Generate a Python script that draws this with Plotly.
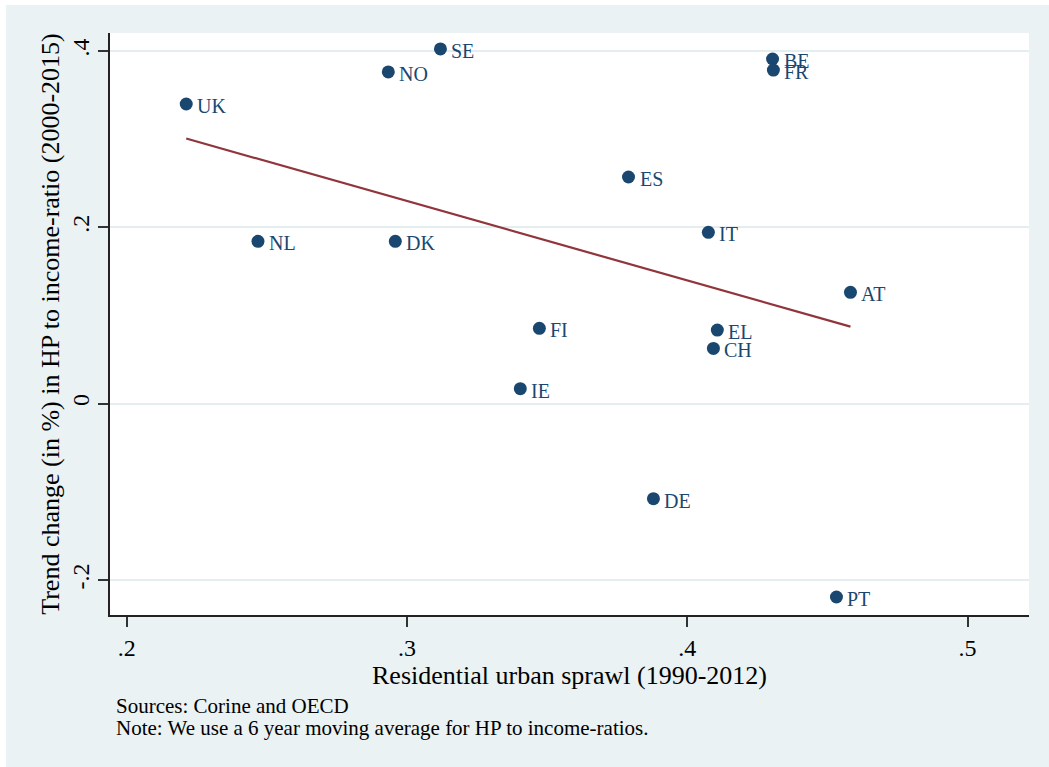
import numpy as np
import plotly.graph_objects as go

# Country codes with residential urban sprawl (1990-2012) and trend change in
# the house-price-to-income ratio (2000-2015)
countries = ["UK", "SE", "NO", "BE", "FR", "ES", "NL", "DK", "IT", "AT",
             "FI", "EL", "CH", "IE", "DE", "PT"]
sprawl = [0.2212, 0.3119, 0.2933, 0.4304, 0.4307, 0.3790, 0.2468, 0.2958,
          0.4075, 0.4582, 0.3472, 0.4107, 0.4093, 0.3404, 0.3879, 0.4532]
hp_change = [0.3399, 0.4023, 0.3762, 0.3909, 0.3784, 0.2571, 0.1841, 0.1841,
             0.1943, 0.1263, 0.0854, 0.0835, 0.0627, 0.0170, -0.1078, -0.2193]

x_ticks = [0.2, 0.3, 0.4, 0.5]
x_tick_text = [".2", ".3", ".4", ".5"]
y_ticks = [-0.2, 0.0, 0.2, 0.4]
y_tick_text = ["-.2", "0", ".2", ".4"]

NAVY = "#1A476F"
MAROON = "#90353B"
BG = "#EAF2F3"
FONT = "Liberation Serif"

# Linear fit over the observed range
slope, intercept = np.polyfit(sprawl, hp_change, 1)
fit_x = np.array([min(sprawl), max(sprawl)])
fit_y = slope * fit_x + intercept

fig = go.Figure()
fig.add_trace(go.Scatter(
    x=sprawl, y=hp_change, mode="markers",
    marker=dict(size=13, color=NAVY),
    showlegend=False, hoverinfo="skip",
))
fig.add_trace(go.Scatter(
    x=fit_x, y=fit_y, mode="lines",
    line=dict(color=MAROON, width=2.2),
    showlegend=False, hoverinfo="skip",
))

# Marker labels placed just to the right of each point
point_labels = [
    dict(x=xv, y=yv, text=name, xref="x", yref="y",
         xanchor="left", yanchor="middle", xshift=9, yshift=-2,
         showarrow=False, font=dict(family=FONT, size=20, color=NAVY))
    for name, xv, yv in zip(countries, sprawl, hp_change)
]

notes = [
    dict(text="Sources: Corine and OECD", xref="paper", yref="paper",
         x=0.0044, y=-0.156, xanchor="left", yanchor="middle",
         showarrow=False, font=dict(family=FONT, size=21, color="black")),
    dict(text="Note: We use a 6 year moving average for HP to income-ratios.",
         xref="paper", yref="paper",
         x=0.0044, y=-0.194, xanchor="left", yanchor="middle",
         showarrow=False, font=dict(family=FONT, size=21, color="black")),
]

fig.update_layout(
    width=1049, height=767,
    margin=dict(l=110, r=20, t=33, b=152),
    paper_bgcolor=BG, plot_bgcolor="white",
    font=dict(family=FONT, color="black"),
    xaxis=dict(
        range=[0.194, 0.5219], tickvals=x_ticks, ticktext=x_tick_text,
        showgrid=False, zeroline=False,
        showline=True, linecolor="#222", linewidth=1.5,
        ticks="outside", ticklen=10, tickwidth=1.5, tickcolor="#333",
        tickfont=dict(family=FONT, size=24, color="black"),
        title=dict(text="Residential urban sprawl (1990-2012)",
                   font=dict(family=FONT, size=26, color="black"),
                   standoff=5),
    ),
    yaxis=dict(
        range=[-0.2397, 0.4204], tickvals=y_ticks, ticktext=y_tick_text,
        showgrid=True, gridcolor="#E4EDF0", gridwidth=2, zeroline=False,
        showline=True, linecolor="#222", linewidth=1.5,
        ticks="outside", ticklen=10, tickwidth=1.5, tickcolor="#333",
        tickangle=-90,
        tickfont=dict(family=FONT, size=24, color="black"),
        title=dict(text="Trend change (in %) in HP to income-ratio (2000-2015)",
                   font=dict(family=FONT, size=26, color="black"),
                   standoff=1),
    ),
    shapes=[
        # thin white frame at the top and left edges of the page
        dict(type="rect", xref="paper", yref="paper",
             x0=-0.2, x1=1.1, y0=1.048, y1=1.2,
             fillcolor="white", line=dict(width=0)),
        dict(type="rect", xref="paper", yref="paper",
             x0=-0.2, x1=-0.1132, y0=-0.4, y1=1.2,
             fillcolor="white", line=dict(width=0)),
    ],
    annotations=point_labels + notes,
)

fig.write_html("out.html")
